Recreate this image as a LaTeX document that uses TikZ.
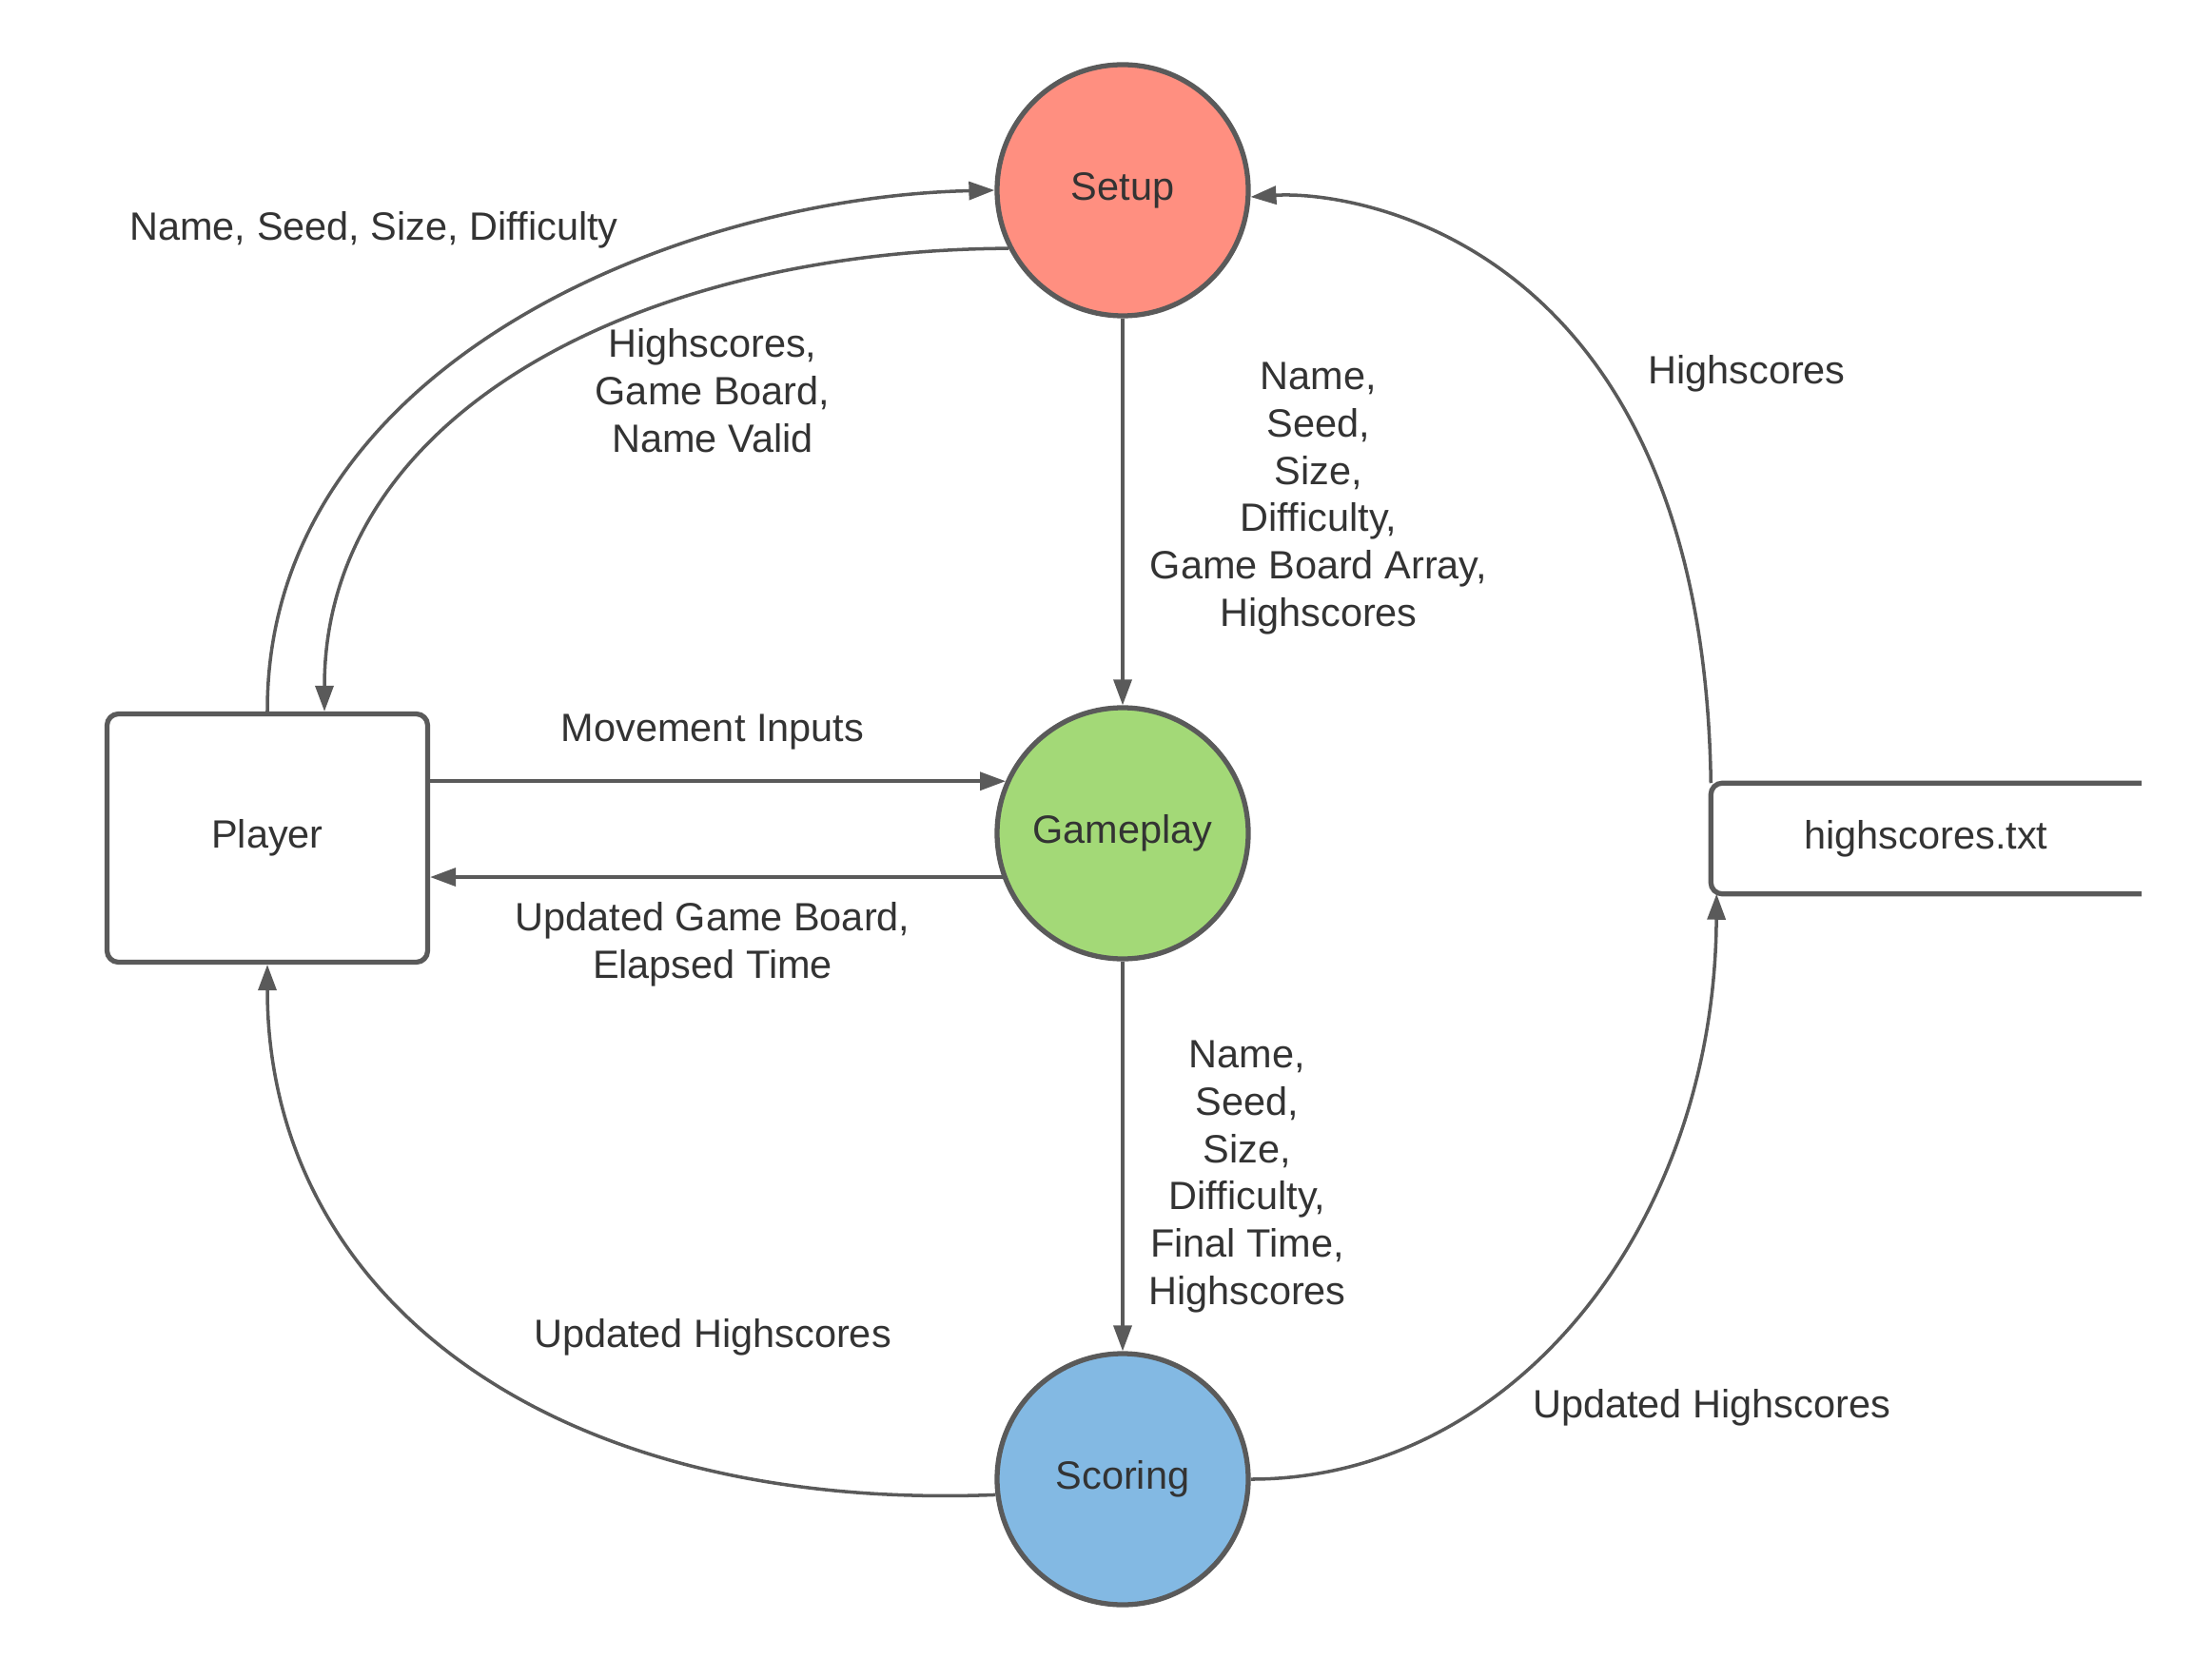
\documentclass[tikz,border=0pt]{standalone}
\usepackage{fontspec}
\setmainfont{Liberation Sans}
\usepackage{xcolor}
\usepackage{tikz}
\usetikzlibrary{arrows.meta, positioning, calc}

\definecolor{linegray}{HTML}{5A5A5A}
\definecolor{textgray}{HTML}{333333}
\definecolor{setupred}{HTML}{FF8F80}
\definecolor{playgreen}{HTML}{A3D977}
\definecolor{scoreblue}{HTML}{83B9E3}

\begin{document}
\begin{tikzpicture}[
    >={Triangle[length=2.7mm, width=1.9mm]},
    line width=1pt,
    font=\fontsize{11.8}{14.2}\selectfont,
    text=textgray,
    process/.style={circle, draw=linegray, line width=1.5pt, minimum size=2.64cm, inner sep=0pt},
    entity/.style={rectangle, draw=linegray, line width=1.5pt, rounded corners=1.2mm, minimum width=3.37cm, minimum height=2.61cm},
    flow/.style={->, draw=linegray, line width=1pt},
    lbl/.style={align=center, inner sep=0pt}
]

\useasboundingbox (0,0) rectangle (23.25,17.63);

% =========================================================
% processes, entity and store
% =========================================================
\node[process, fill=setupred]  (setup)    at (11.80,15.63) {Setup};
\node[process, fill=playgreen] (gameplay) at (11.80,8.87)  {Gameplay};
\node[process, fill=scoreblue] (scoring)  at (11.80,2.08)  {Scoring};

\node[entity] (player) at (2.81,8.82) {Player};

\node[minimum width=4.49cm, minimum height=1.13cm] (store) at (20.245,8.815) {highscores.txt};
\draw[draw=linegray, line width=1.5pt, rounded corners=1.2mm]
    (store.north east) -- (store.north west) -- (store.south west) -- (store.south east);

% =========================================================
% flows
% =========================================================

% player <-> setup
\draw[flow] (player.north)
    .. controls (2.80,13.83) and (7.20,15.56) .. (setup.west);
\draw[flow] (setup.207)
    .. controls (6.80,15.00) and (3.41,13.33) .. ($(player.north)+(0.60,0)$);

% setup -> gameplay -> scoring
\draw[flow] (setup.south) -- (gameplay.north);
\draw[flow] (gameplay.south) -- (scoring.north);

% player <-> gameplay
\draw[flow] (player.east |- gameplay.156) -- (gameplay.156);
\draw[flow] (gameplay.200) -- (player.east |- gameplay.200);

% scoring -> player
\draw[flow] (scoring.187)
    .. controls (5.73,1.73) and (2.81,4.03) .. (player.south);

% scoring -> store -> setup
\draw[flow] (scoring.east)
    .. controls (15.89,2.08) and (18.02,4.73) .. ($(store.south west)+(0.06,0)$);
\draw[flow] (store.north west)
    .. controls (17.90,15.13) and (14.20,15.63) .. (setup.-3);

% =========================================================
% labels
% =========================================================
\node[lbl] (lblnsd)   at (3.93,15.21) {Name, Seed, Size, Difficulty};
\node[lbl] (lblhgb)   at (7.49,13.52) {Highscores,\\Game Board,\\Name Valid};
\node[lbl] (lblarray) at (13.86,12.39) {Name,\\Seed,\\Size,\\Difficulty,\\Game Board Array,\\Highscores};
\node[lbl] (lblhs)    at (18.36,13.70) {Highscores};
\node[lbl] (lblmove)  at (7.49,9.93) {Movement Inputs};
\node[lbl] (lblboard) at (7.49,7.70) {Updated Game Board,\\Elapsed Time};
\node[lbl] (lblfinal) at (13.11,5.26) {Name,\\Seed,\\Size,\\Difficulty,\\Final Time,\\Highscores};
\node[lbl] (lbluhsl)  at (7.49,3.57) {Updated Highscores};
\node[lbl] (lbluhsr)  at (17.99,2.83) {Updated Highscores};

\end{tikzpicture}
\end{document}
